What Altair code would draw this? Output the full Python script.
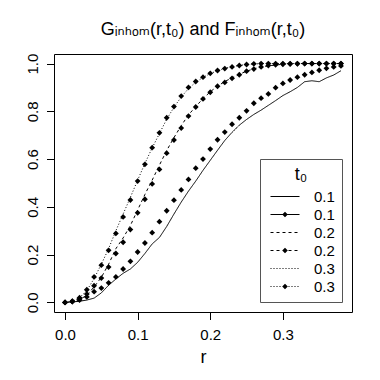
import altair as alt
import pandas as pd

# r grid at which the curves were read (0.00 .. 0.38)
r_grid = [0.00, 0.01, 0.02, 0.03, 0.04, 0.05, 0.06, 0.07, 0.08, 0.09,
          0.10, 0.11, 0.12, 0.13, 0.14, 0.15, 0.16, 0.17, 0.18, 0.19,
          0.20, 0.21, 0.22, 0.23, 0.24, 0.25, 0.26, 0.27, 0.28, 0.29,
          0.30, 0.31, 0.32, 0.33, 0.34, 0.35, 0.36, 0.37, 0.38]

# G_inhom (lines)
g_01 = [0.000, 0.002, 0.005, 0.010, 0.018, 0.040, 0.072, 0.098, 0.122, 0.140,
        0.168, 0.205, 0.245, 0.272, 0.318, 0.370, 0.420, 0.466, 0.508, 0.553,
        0.595, 0.637, 0.678, 0.712, 0.742, 0.766, 0.787, 0.805, 0.825, 0.845,
        0.866, 0.882, 0.900, 0.924, 0.928, 0.924, 0.940, 0.952, 0.970]
g_02 = [0.000, 0.003, 0.012, 0.030, 0.065, 0.105, 0.160, 0.225, 0.270, 0.322,
        0.387, 0.452, 0.512, 0.575, 0.636, 0.690, 0.740, 0.785, 0.820, 0.853,
        0.882, 0.905, 0.925, 0.940, 0.955, 0.968, 0.978, 0.986, 0.990, 0.994,
        0.997, 1.000, 1.000, 1.000, 1.000, 1.000, 1.000, 1.000, 1.000]
g_03 = [0.000, 0.004, 0.020, 0.050, 0.100, 0.160, 0.225, 0.300, 0.370, 0.440,
        0.512, 0.582, 0.647, 0.707, 0.767, 0.817, 0.860, 0.895, 0.922, 0.942,
        0.958, 0.970, 0.980, 0.987, 0.992, 0.996, 0.998, 1.000, 1.000, 1.000,
        1.000, 1.000, 1.000, 1.000, 1.000, 1.000, 1.000, 1.000, 1.000]

# F_inhom (diamond points)
f_01 = [0.000, 0.004, 0.010, 0.023, 0.045, 0.060, 0.082, 0.107, 0.140, 0.172,
        0.211, 0.249, 0.292, 0.338, 0.384, 0.428, 0.471, 0.515, 0.562, 0.600,
        0.642, 0.681, 0.713, 0.746, 0.773, 0.802, 0.834, 0.855, 0.873, 0.899,
        0.917, 0.931, 0.943, 0.953, 0.963, 0.972, 0.980, 0.986, 0.990]
f_02 = [0.000, 0.004, 0.015, 0.035, 0.070, 0.102, 0.148, 0.205, 0.252, 0.305,
        0.375, 0.432, 0.496, 0.557, 0.625, 0.680, 0.730, 0.780, 0.818, 0.852,
        0.880, 0.905, 0.921, 0.938, 0.953, 0.968, 0.977, 0.986, 0.992, 0.995,
        0.997, 0.998, 0.999, 1.000, 1.000, 1.000, 1.000, 1.000, 1.000]
f_03 = [0.000, 0.005, 0.020, 0.053, 0.107, 0.156, 0.218, 0.289, 0.358, 0.429,
        0.508, 0.578, 0.648, 0.710, 0.773, 0.820, 0.864, 0.900, 0.925, 0.943,
        0.959, 0.971, 0.979, 0.986, 0.992, 0.996, 0.999, 1.000, 1.000, 1.000,
        1.000, 1.000, 1.000, 1.000, 1.000, 1.000, 1.000, 1.000, 1.000]

series_names = ["G 0.1", "F 0.1", "G 0.2", "F 0.2", "G 0.3", "F 0.3"]
series_values = [g_01, f_01, g_02, f_02, g_03, f_03]
dash_styles = [[1, 0], [1, 0], [3, 3], [3, 3], [1, 2], [1, 2]]

rows = []
for name, vals in zip(series_names, series_values):
    for r, v in zip(r_grid, vals):
        rows.append({"r": r, "value": v, "series": name, "kind": name[0]})
df = pd.DataFrame(rows)

FONT = "Liberation Sans, Arial, DejaVu Sans"

# ---- legend glyphs drawn as filled paths (symbol unit = 4 px) ----
UNIT = 4.0
X0, X1 = -1.0, 6.25          # 29 px line sample
HALF_T = 0.125               # 1 px thick line


def sample_path(dash, with_diamond):
    on, off = dash
    if off == 0:
        parts = [f"M{X0},{-HALF_T}H{X1}V{HALF_T}H{X0}Z"]
    else:
        parts = []
        x = X0
        while x < X1 - 1e-9:
            x2 = min(x + on / UNIT, X1)
            parts.append(f"M{x:.4f},{-HALF_T}H{x2:.4f}V{HALF_T}H{x:.4f}Z")
            x += (on + off) / UNIT
    if with_diamond:
        c, h = (X0 + X1) / 2, 0.7
        parts.append(f"M{c},{-h}L{c + h},0L{c},{h}L{c - h},0Z")
    return "".join(parts)


shape_range = [sample_path(d, n.startswith("F")) for n, d in zip(series_names, dash_styles)]
shape_scale = alt.Scale(domain=series_names, range=shape_range)

x_enc = alt.X("r:Q",
              scale=alt.Scale(domain=[-0.0152, 0.3952], nice=False, zero=False),
              axis=alt.Axis(values=[0, 0.1, 0.2, 0.3], format=".1f", title="r",
                            labelPadding=8, titlePadding=6))
y_enc = alt.Y("value:Q",
              scale=alt.Scale(domain=[-0.04, 1.04], nice=False, zero=False),
              axis=alt.Axis(values=[0, 0.2, 0.4, 0.6, 0.8, 1.0], format=".1f",
                            title=None, labelAngle=270, labelAlign="center",
                            labelBaseline="alphabetic", labelPadding=9))

base = alt.Chart(df)

line_layers = []
for name, dash in zip(series_names, dash_styles):
    if not name.startswith("G"):
        continue
    line_layers.append(
        base.transform_filter(alt.datum.series == name).mark_line(
            color="black", strokeWidth=1, strokeDash=dash
        ).encode(x=x_enc, y=y_enc)
    )

points = base.transform_filter("datum.kind == 'F'").mark_point(
    shape="diamond", filled=True, size=34, color="black", opacity=1
).encode(x=x_enc, y=y_enc, detail="series:N")

legend = alt.Legend(
    title="t\u2080", orient="none", legendX=206, legendY=105,
    padding=7, strokeColor="#555", fillColor="white",
    symbolSize=UNIT * UNIT * 4, symbolFillColor="black", symbolStrokeColor="black",
    symbolStrokeWidth=0, symbolOpacity=1,
    labelExpr="slice(datum.label, 2) + '    '",
    labelFont=FONT, labelFontSize=15, labelColor="black", labelOffset=32,
    titleFont=FONT, titleFontSize=18, titleFontWeight="normal", titleColor="black",
    titleAnchor="middle", titleAlign="center", titlePadding=5, rowPadding=2,
)

legend_layer = base.mark_point(
    filled=True, color="black", opacity=0
).encode(
    x=x_enc, y=y_enc,
    shape=alt.Shape("series:N", scale=shape_scale, legend=legend),
)

chart = alt.layer(*line_layers, points, legend_layer).properties(
    width=298, height=258,
    padding={"left": 46, "top": 46, "right": 20, "bottom": 60},
    autosize=alt.AutoSizeParams(type="none"),
    title=alt.TitleParams(
        text="G\u1d62\u2099\u2095\u2092\u2098(r,t\u2080) and F\u1d62\u2099\u2095\u2092\u2098(r,t\u2080)",
        font=FONT, fontSize=18, fontWeight="normal", color="black",
        anchor="middle", offset=14),
).configure_view(stroke="black", strokeWidth=1).configure_axis(
    grid=False, domain=False, tickColor="black", tickSize=7.5, tickWidth=1,
    labelFont=FONT, labelFontSize=15, labelColor="black",
    titleFont=FONT, titleFontSize=18, titleFontWeight="normal", titleColor="black",
)

chart.save("out.html", embed_options={"renderer": "svg", "actions": False})
